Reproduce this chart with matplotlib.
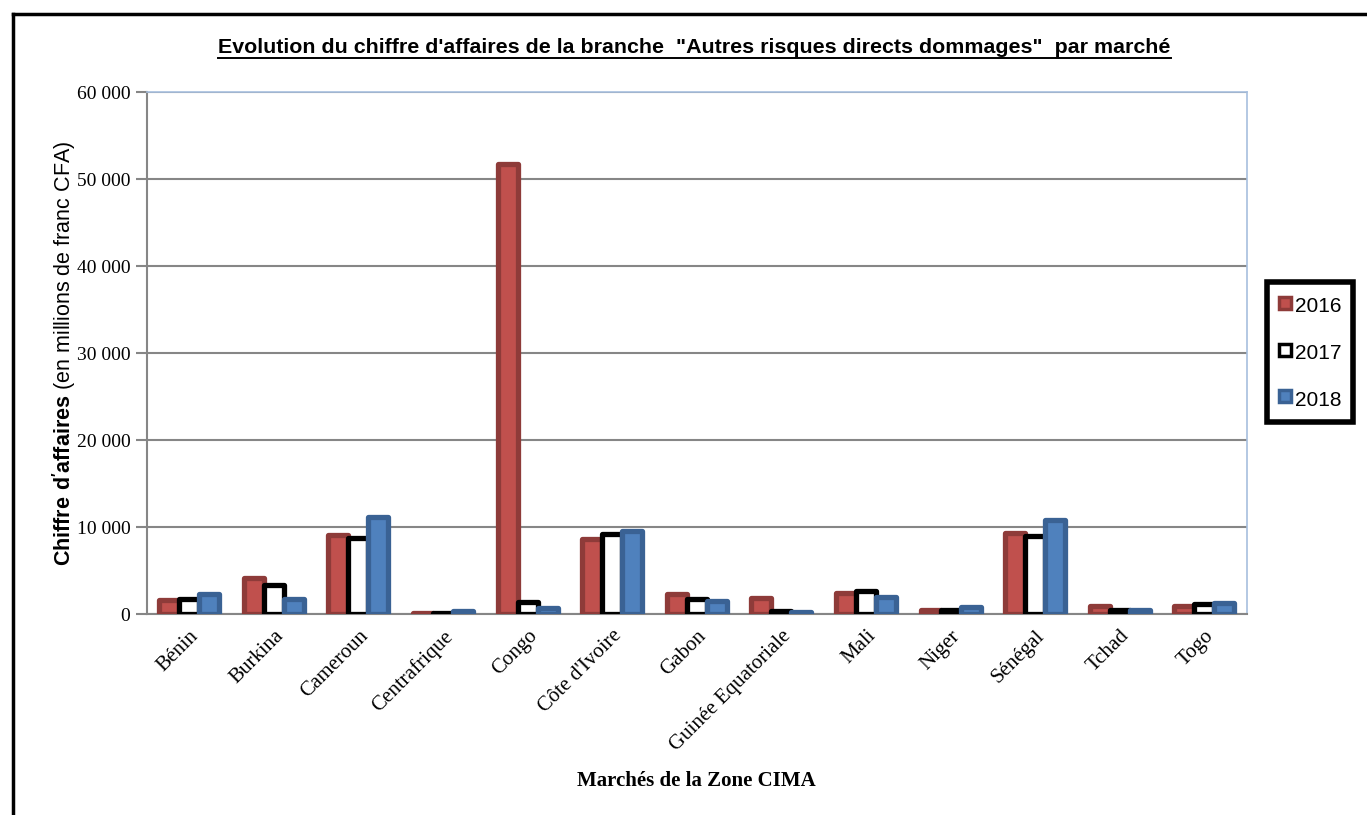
import numpy as np
import matplotlib
matplotlib.use("Agg")
import matplotlib.pyplot as plt
from matplotlib.lines import Line2D
from matplotlib.ticker import FuncFormatter

# Données (millions de FCFA)
marches = ["Bénin", "Burkina", "Cameroun", "Centrafrique", "Congo", "Côte d'Ivoire",
           "Gabon", "Guinée Equatoriale", "Mali", "Niger", "Sénégal", "Tchad", "Togo"]
annees = ["2016", "2017", "2018"]
ca_2016 = [1600, 4100, 9100, 100, 51700, 8600, 2300, 1800, 2400, 500, 9300, 900, 950]
ca_2017 = [1700, 3300, 8700, 100, 1400, 9200, 1700, 400, 2700, 500, 9000, 500, 1100]
ca_2018 = [2300, 1700, 11200, 400, 700, 9500, 1500, 200, 2000, 800, 10800, 500, 1300]

plt.rcParams['mathtext.fontset'] = 'custom'
plt.rcParams['mathtext.bf'] = 'Liberation Sans:bold'
plt.rcParams['mathtext.rm'] = 'Liberation Sans'

fig = plt.figure(figsize=(13.67, 8.15), dpi=100)
ax = fig.add_axes([0.1075, 0.2466, 0.8045, 0.6405])

x = np.arange(len(marches))
w = 0.236
styles = [("#C0504D", "#8E3B39"), ("white", "black"), ("#4F81BD", "#3A6294")]
for i, (vals, (fc, ec)) in enumerate(zip([ca_2016, ca_2017, ca_2018], styles)):
    ax.bar(x + (i - 1) * w, vals, width=w, color=fc, edgecolor=ec, linewidth=3.8,
           joinstyle='round', zorder=3)

ax.set_xlim(-0.5, len(marches) - 0.5)
ax.set_ylim(0, 60000)
ax.set_yticks(np.arange(0, 60001, 10000))
ax.yaxis.set_major_formatter(FuncFormatter(lambda v, p: f"{int(v):,}".replace(",", " ")))
ax.grid(axis='y', color='#868686', linewidth=1.5, zorder=0)
ax.set_xticks(x)
ax.set_xticklabels(marches, rotation=45, ha='right', va='top', rotation_mode='anchor',
                   fontsize=15, family='Liberation Serif')
ax.tick_params(axis='x', length=0, pad=9)
ax.tick_params(axis='y', length=8, width=1.5, color='#868686', labelsize=14, pad=4)
for lab in ax.get_yticklabels():
    lab.set_family('Liberation Serif')

for s in ['left', 'bottom']:
    ax.spines[s].set_color('#868686')
    ax.spines[s].set_linewidth(1.5)
for s in ['top', 'right']:
    ax.spines[s].set_color('#A7BFDE')
    ax.spines[s].set_linewidth(1.2)

ax.set_ylabel(r"$\bf{Chiffre\ d'affaires}$ (en millions de franc CFA)",
              fontsize=15.5, family='Liberation Sans', va='center')
ax.yaxis.set_label_coords(-0.0755, 0.5)
ax.set_xlabel("Marchés de la Zone CIMA", fontsize=15, family='Liberation Serif',
              fontweight='bold')
ax.xaxis.set_label_coords(0.5, -0.30)

titre = fig.text(0.508, 0.942, "Evolution du chiffre d'affaires de la branche  \"Autres risques directs dommages\"  par marché",
                 ha='center', va='center', fontsize=15.4, fontweight='bold', family='Liberation Sans')

handles = [Line2D([], [], marker='s', linestyle='none', markersize=8.5,
                  markerfacecolor=fc, markeredgecolor=ec, markeredgewidth=2.5)
           for fc, ec in styles]
leg = fig.legend(handles, annees, loc='center', bbox_to_anchor=(0.958, 0.568),
                 prop={'family': 'Liberation Sans', 'size': 15},
                 handlelength=0.7, handleheight=1.4, handletextpad=0.1,
                 labelspacing=1.08, borderpad=0.55, borderaxespad=0,
                 fancybox=False, frameon=True, framealpha=1)
leg.get_frame().set_edgecolor('black')
leg.get_frame().set_linewidth(4)

# bordure gauche et haute du cadre
fig.add_artist(Line2D([0.0095, 1.0], [0.983, 0.983], color='black', linewidth=2.5,
                      transform=fig.transFigure))
fig.add_artist(Line2D([0.0095, 0.0095], [0.0, 0.983], color='black', linewidth=2.5,
                      transform=fig.transFigure))

# soulignement du titre
fig.canvas.draw()
bb = titre.get_window_extent().transformed(fig.transFigure.inverted())
fig.add_artist(Line2D([bb.x0, bb.x1], [bb.y0 - 0.001, bb.y0 - 0.001], color='black',
                      linewidth=1.4, transform=fig.transFigure))

fig.savefig("out.png", dpi=100, facecolor='white')
